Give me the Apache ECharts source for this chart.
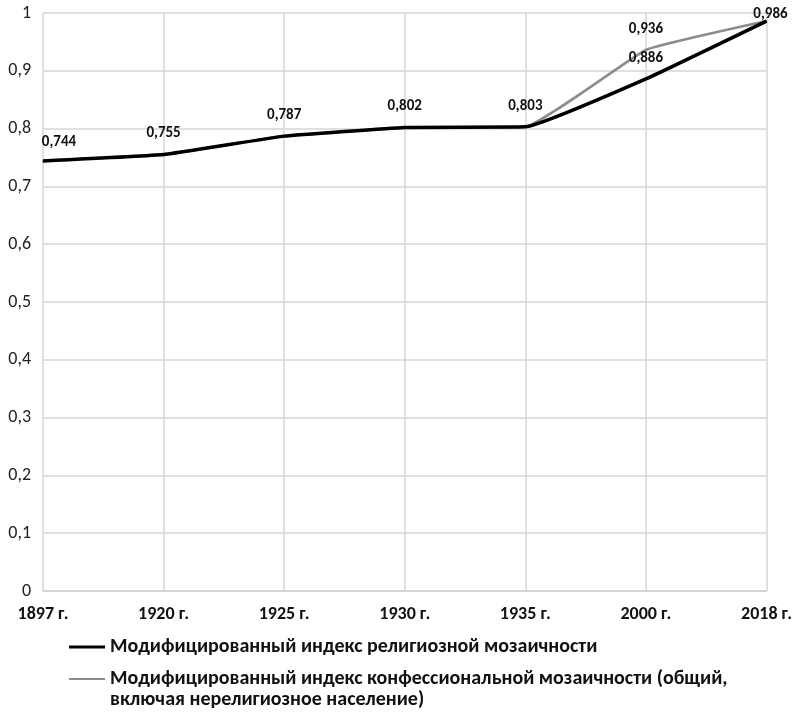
<!DOCTYPE html>
<html>
<head>
<meta charset="utf-8">
<script src="https://cdn.jsdelivr.net/npm/echarts@6/dist/echarts.min.js"></script>
<style>html,body{margin:0;padding:0;background:#fff}#c{width:795px;height:714px}</style>
</head>
<body>
<div id="c"></div>
<script>
const categories = ['1897 г.', '1920 г.', '1925 г.', '1930 г.', '1935 г.', '2000 г.', '2018 г.'];
const religiousIndex = [0.744, 0.755, 0.787, 0.802, 0.803, 0.886, 0.986];
const confessionalIndex = [0.744, 0.755, 0.787, 0.802, 0.803, 0.936, 0.986];
const confessionalLabelIdx = [5];
const seriesNames = [
  'Модифицированный индекс религиозной мозаичности',
  'Модифицированный индекс конфессиональной мозаичности (общий, включая нерелигиозное население)'
];
const legendLine1 = 'Модифицированный индекс конфессиональной мозаичности (общий,';
const legendLine2 = 'включая нерелигиозное население)';

const fmt = v => String(v).replace('.', ',');
const FONT = "Carlito, 'Open Sans Condensed', sans-serif";

// per-point label placement tweaks (style only)
const labelOffsets = { 0: [16, 2], 6: [4, 14] };

const blackData = religiousIndex.map((v, i) => ({
  value: v,
  label: labelOffsets[i] ? { offset: labelOffsets[i] } : {}
}));

const chart = echarts.init(document.getElementById('c'));
chart.setOption({
  animation: false,
  backgroundColor: '#fff',
  textStyle: { fontFamily: FONT },
  grid: { left: 43, right: 28, top: 13, bottom: 123 },
  xAxis: {
    type: 'category', data: categories, boundaryGap: false,
    axisLine: { lineStyle: { color: '#d0d0d0', width: 1.5 } },
    axisTick: { show: false },
    splitLine: { show: true, lineStyle: { color: '#d6d6d6', width: 1.5 } },
    axisLabel: { color: '#111', fontSize: 18, fontWeight: 'bold', margin: 14, fontFamily: FONT,
      interval: 0, showMinLabel: true, showMaxLabel: true }
  },
  yAxis: {
    type: 'value', min: 0, max: 1, interval: 0.1,
    axisLine: { show: false }, axisTick: { show: false },
    splitLine: { lineStyle: { color: '#d6d6d6', width: 1.5 } },
    axisLabel: { color: '#222', fontSize: 18, margin: 12, fontFamily: FONT,
      formatter: v => fmt(+v.toFixed(1)) }
  },
  legend: [
    {
      left: 64, top: 632, itemWidth: 36, itemHeight: 3, icon: 'rect', itemGap: 0,
      textStyle: { fontSize: 20, fontWeight: 'bold', color: '#111', fontFamily: FONT },
      data: [seriesNames[0]], selectedMode: false
    },
    {
      left: 64, top: 664, itemWidth: 36, itemHeight: 2, icon: 'rect', itemGap: 0,
      textStyle: { fontSize: 20, fontWeight: 'bold', color: '#111', fontFamily: FONT },
      formatter: () => legendLine1,
      data: [seriesNames[1]], selectedMode: false
    }
  ],
  graphic: [{
    type: 'text', left: 110, top: 690,
    style: { text: legendLine2, font: "bold 20px " + FONT, fill: '#111' }
  }],
  series: [
    {
      name: seriesNames[1], type: 'line', data: confessionalIndex, smooth: 0.1,
      symbol: 'circle', symbolSize: 1, showSymbol: true, z: 2,
      lineStyle: { color: '#8c8c8c', width: 2.5 }, itemStyle: { color: '#8c8c8c' },
      label: { show: true, position: 'top', distance: 13, color: '#111', fontSize: 15, fontWeight: 'bold',
        fontFamily: FONT,
        formatter: p => confessionalLabelIdx.includes(p.dataIndex) ? fmt(p.value) : '' }
    },
    {
      name: seriesNames[0], type: 'line', data: blackData, smooth: 0.1,
      symbol: 'circle', symbolSize: 1, showSymbol: true, z: 3,
      lineStyle: { color: '#000', width: 3.5 }, itemStyle: { color: '#000' },
      label: { show: true, position: 'top', distance: 13, color: '#111', fontSize: 15, fontWeight: 'bold',
        fontFamily: FONT, formatter: p => fmt(p.value) }
    }
  ]
});
</script>
</body>
</html>
